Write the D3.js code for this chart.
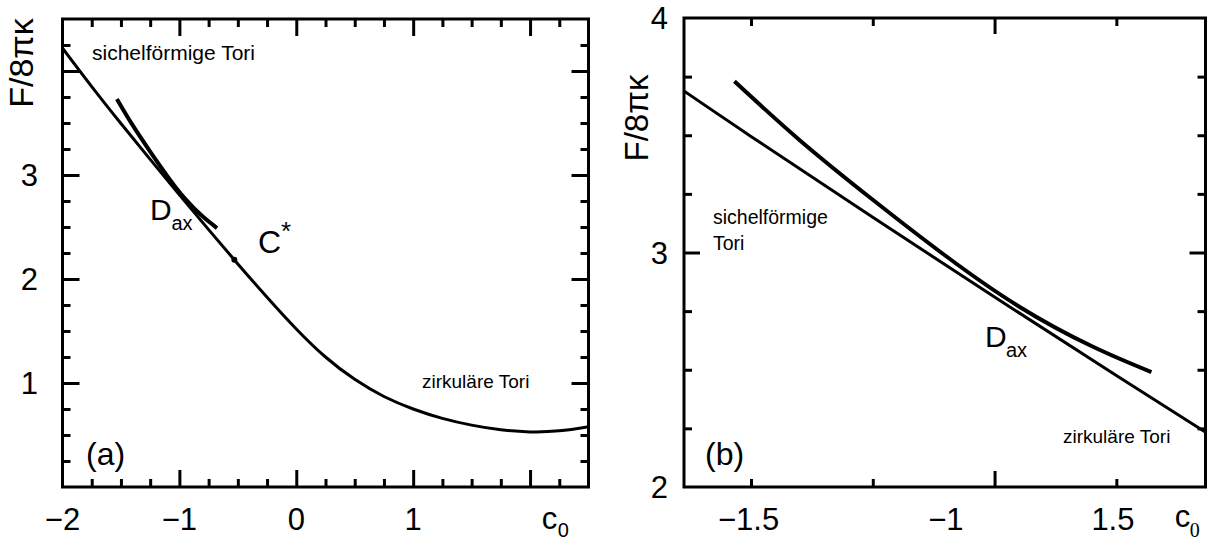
<!DOCTYPE html>
<html>
<head>
<meta charset="utf-8">
<script src="https://cdn.jsdelivr.net/npm/d3@7"></script>
<style>
  body { margin: 0; background: #fff; }
  svg { display: block; }
  text { font-family: "Liberation Sans", Arial, Helvetica, sans-serif; fill: #000; }
</style>
</head>
<body>
<svg id="chart" width="1207" height="542"></svg>
<script>
// energy curve F/8πκ against c0
const c0Values = [-2, -1.75, -1.5, -1.25, -1, -0.75, -0.5, -0.25, 0, 0.25, 0.5, 0.75, 1, 1.25, 1.5, 1.75, 2, 2.25, 2.5];
const energyValues = [4.22, 3.85, 3.495, 3.15, 2.81, 2.475, 2.145, 1.825, 1.52, 1.25, 1.035, 0.87, 0.75, 0.66, 0.595, 0.55, 0.53, 0.54, 0.58];

// D_ax branch (thick line)
const daxC0 = [-1.534, -1.40, -1.25, -1.10, -0.95, -0.80, -0.678];
const daxEnergy = [3.730, 3.479, 3.225, 2.985, 2.77, 2.60, 2.49];

// C* point
const cStarC0 = [-0.53];
const cStarEnergy = [2.185];

// tick labels
const yTickLabelsA = [1, 2, 3];
const xTickLabelsA = [-2, -1, 0, 1];
const yTickLabelsB = [2, 3, 4];
const xTickLabelsB = ["−1.5", "−1", "1.5"];
const xTickLabelPosB = [-1.505, -1.1, -0.757];

const svg = d3.select("#chart");
svg.append("rect").attr("width", 1207).attr("height", 542).attr("fill", "#fff");

const mainData = c0Values.map((c, i) => [c, energyValues[i]]);
const daxData = daxC0.map((c, i) => [c, daxEnergy[i]]);

// frame, inward ticks on all four sides, clipped curves
let drawPanel = (id, x, y, t) => {
    const g = svg.append("g");
    const [x0, x1] = x.range();
    const [y0, y1] = y.range();

    svg.append("defs").append("clipPath").attr("id", id)
        .append("rect").attr("x", x0).attr("y", y1).attr("width", x1 - x0).attr("height", y0 - y1);

    [[t.xMinor, t.minor], [t.xMajor, t.major]].forEach(([vals, len]) => {
        g.append("g").attr("transform", `translate(0,${y0})`)
            .call(d3.axisBottom(x).tickValues(vals).tickSize(-len).tickFormat(""));
        g.append("g").attr("transform", `translate(0,${y1})`)
            .call(d3.axisTop(x).tickValues(vals).tickSize(-len).tickFormat(""));
    });
    [[t.yMinor, t.minor], [t.yMajor, t.major]].forEach(([vals, len]) => {
        g.append("g").attr("transform", `translate(${x0},0)`)
            .call(d3.axisLeft(y).tickValues(vals).tickSize(-len).tickFormat(""));
        g.append("g").attr("transform", `translate(${x1},0)`)
            .call(d3.axisRight(y).tickValues(vals).tickSize(-len).tickFormat(""));
    });
    g.selectAll(".domain").remove();
    g.selectAll(".tick line").attr("stroke", "#000").attr("stroke-width", 3);

    const line = d3.line()
        .x(d => x(d[0]))
        .y(d => y(d[1]))
        .curve(d3.curveNatural);

    const curves = g.append("g").attr("clip-path", `url(#${id})`);
    curves.append("path").datum(mainData)
        .attr("fill", "none").attr("stroke", "#000").attr("stroke-width", t.mainWidth)
        .attr("d", line);
    curves.append("path").datum(daxData)
        .attr("fill", "none").attr("stroke", "#000").attr("stroke-width", t.daxWidth)
        .attr("d", line);

    g.append("rect")
        .attr("x", x0).attr("y", y1)
        .attr("width", x1 - x0).attr("height", y0 - y1)
        .attr("fill", "none").attr("stroke", "#000").attr("stroke-width", 3);
    return g;
};

let addText = (g, px, py, str, size, anchor = "start", family = null) => {
    const tx = g.append("text").attr("x", px).attr("y", py)
        .attr("font-size", size).attr("text-anchor", anchor).text(str);
    if (family) tx.style("font-family", family);
    return tx;
};

// ---------- panel (a)
const xA = d3.scaleLinear().domain([-2, 2.5]).range([62.5, 588.5]);
const yA = d3.scaleLinear().domain([0, 4.5]).range([487, 19]);
const gA = drawPanel("clipA", xA, yA, {
    xMinor: d3.range(-1.75, 2.5, 0.25).filter(v => v % 1 !== 0),
    xMajor: [-1, 0, 1, 2],
    yMinor: d3.range(0.25, 4.5, 0.25).filter(v => v % 1 !== 0),
    yMajor: [1, 2, 3, 4],
    minor: 8, major: 17, mainWidth: 3, daxWidth: 4
});

gA.append("circle")
    .datum([cStarC0[0], cStarEnergy[0]])
    .attr("cx", d => xA(d[0])).attr("cy", d => yA(d[1]))
    .attr("r", 3).attr("fill", "#000");

yTickLabelsA.forEach(v => addText(gA, 38, yA(v) + 11, v, 31, "end"));
xTickLabelsA.forEach(v => addText(gA, xA(v), 530, v < 0 ? "−" + Math.abs(v) : v, 31, "middle"));
addText(gA, xA(2.1), 529, "c", 31);
addText(gA, xA(2.1) + 16, 537, "0", 20);
addText(gA, 0, 0, "F/8πκ", 34, "middle")
    .attr("dominant-baseline", "central")
    .attr("transform", "translate(21,63) rotate(-90)");
addText(gA, 86, 465, "(a)", 32);
addText(gA, 92, 60, "sichelförmige Tori", 21);
addText(gA, 422, 388, "zirkuläre Tori", 19);
addText(gA, 150, 220, "D", 30);
addText(gA, 171.5, 230, "ax", 20);
addText(gA, 258, 253, "C", 32);
addText(gA, 281, 240, "*", 26);

// ---------- panel (b)
const xB = d3.scaleLinear().domain([-1.6375, -0.567]).range([684, 1205.5]);
const yB = d3.scaleLinear().domain([2, 4]).range([487, 18]);
const gB = drawPanel("clipB", xB, yB, {
    xMinor: [-1.5, -1.25, -0.75],
    xMajor: [-1],
    yMinor: [2.25, 2.5, 2.75, 3.25, 3.5, 3.75],
    yMajor: [3],
    minor: 8, major: 16, mainWidth: 3, daxWidth: 4
});

yTickLabelsB.forEach(v => addText(gB, 668, yB(v) + 11, v, 31, "end"));
xTickLabelsB.forEach((s, i) => addText(gB, xB(xTickLabelPosB[i]), 530, s, 31, "middle"));
addText(gB, xB(-0.63), 527, "c", 31);
addText(gB, xB(-0.63) + 15, 537, "0", 20, "start", "'Liberation Serif', 'Times New Roman', serif");
addText(gB, 0, 0, "F/8πκ", 33, "middle")
    .attr("dominant-baseline", "central")
    .attr("transform", "translate(636,118) rotate(-90)");
addText(gB, 705, 465, "(b)", 32);
addText(gB, 713, 224, "sichelförmige", 19.5);
addText(gB, 713, 250, "Tori", 19.5);
addText(gB, 1063, 443, "zirkuläre Tori", 19);
addText(gB, 985, 347, "D", 30);
addText(gB, 1006, 357, "ax", 20);
</script>
</body>
</html>
